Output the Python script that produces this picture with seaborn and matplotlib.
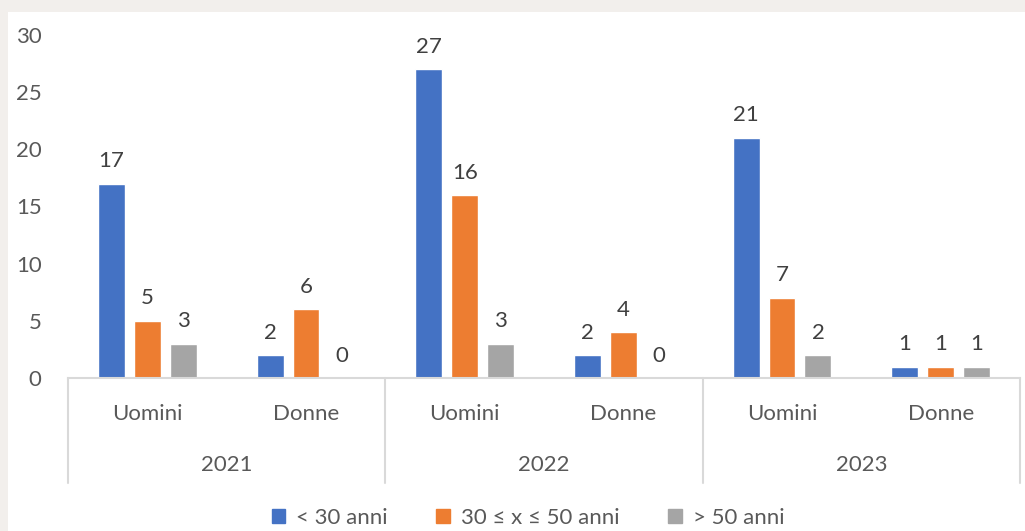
import matplotlib
matplotlib.use("Agg")
import matplotlib.pyplot as plt
import matplotlib.patches as mpatches
import seaborn as sns
import pandas as pd

years = ["2021", "2022", "2023"]
genders = ["Uomini", "Donne"]
series = ["< 30 anni", "30 ≤ x ≤ 50 anni", "> 50 anni"]
under30 = [17, 2, 27, 2, 21, 1]
mid = [5, 6, 16, 4, 7, 1]
over50 = [3, 0, 3, 0, 2, 1]
colors = ["#4472C4", "#ED7D31", "#A5A5A5"]

sns.set_theme(style="white")
plt.rcParams['font.family'] = ['Lato', 'DejaVu Sans']
FS = 16

cats = [f"{y} {g}" for y in years for g in genders]
rows = []
for vals, s in zip([under30, mid, over50], series):
    for c, v in zip(cats, vals):
        rows.append({"cat": c, "serie": s, "val": v})
df = pd.DataFrame(rows)

fig = plt.figure(figsize=(10.25, 5.31), dpi=100, facecolor="#f2efec")
fig.patches.append(mpatches.Rectangle((8/1025, 0), 1, (531-12)/531, transform=fig.transFigure,
                                      facecolor="white", edgecolor="none", zorder=-10))
ax = fig.add_axes([68/1025, 153/531, (1020-68)/1025, (378-35)/531])
ax.set_facecolor("none")

sns.barplot(data=df, x="cat", y="val", hue="serie", order=cats, hue_order=series,
            palette=colors, width=0.68, gap=0.25, ax=ax, legend=False, saturation=1)

for cont in ax.containers:
    ax.bar_label(cont, padding=9, fontsize=FS, color="#404040", clip_on=False)

ax.set_ylim(0, 30)
ax.set_xlim(-0.5, len(cats) - 0.5)
ax.set_yticks(range(0, 31, 5))
ax.tick_params(axis="y", labelsize=FS, colors="#595959", length=0, pad=19)
ax.set_xticks([])
ax.set_xlabel("")
ax.set_ylabel("")
for s in ["top", "right", "left"]:
    ax.spines[s].set_visible(False)
ax.spines["bottom"].set_color("#d9d9d9")
ax.spines["bottom"].set_linewidth(1.5)

trans = ax.get_xaxis_transform()
px = 1 / (378 - 35)
for i, c in enumerate(cats):
    ax.text(i, -(414 - 378) * px, c.split(" ")[1], transform=trans, ha="center", va="center",
            fontsize=FS, color="#595959")
for j, y in enumerate(years):
    ax.text(2 * j + 0.5, -(465 - 378) * px, y, transform=trans, ha="center", va="center",
            fontsize=FS, color="#595959")
for b in [-0.5, 1.5, 3.5, 5.5]:
    ax.plot([b, b], [0, -(483 - 378) * px], transform=trans, color="#d9d9d9", lw=1.5, clip_on=False)

handles = [mpatches.Patch(color=c, label=s) for c, s in zip(colors, series)]
fig.legend(handles=handles, loc="center", bbox_to_anchor=(528/1025, 1 - 518/531), ncol=3,
           frameon=False, fontsize=FS, handlelength=0.6, handleheight=0.6, handletextpad=0.5,
           columnspacing=2.2, labelcolor="#595959")

fig.savefig("out.png", dpi=100, facecolor=fig.get_facecolor())
